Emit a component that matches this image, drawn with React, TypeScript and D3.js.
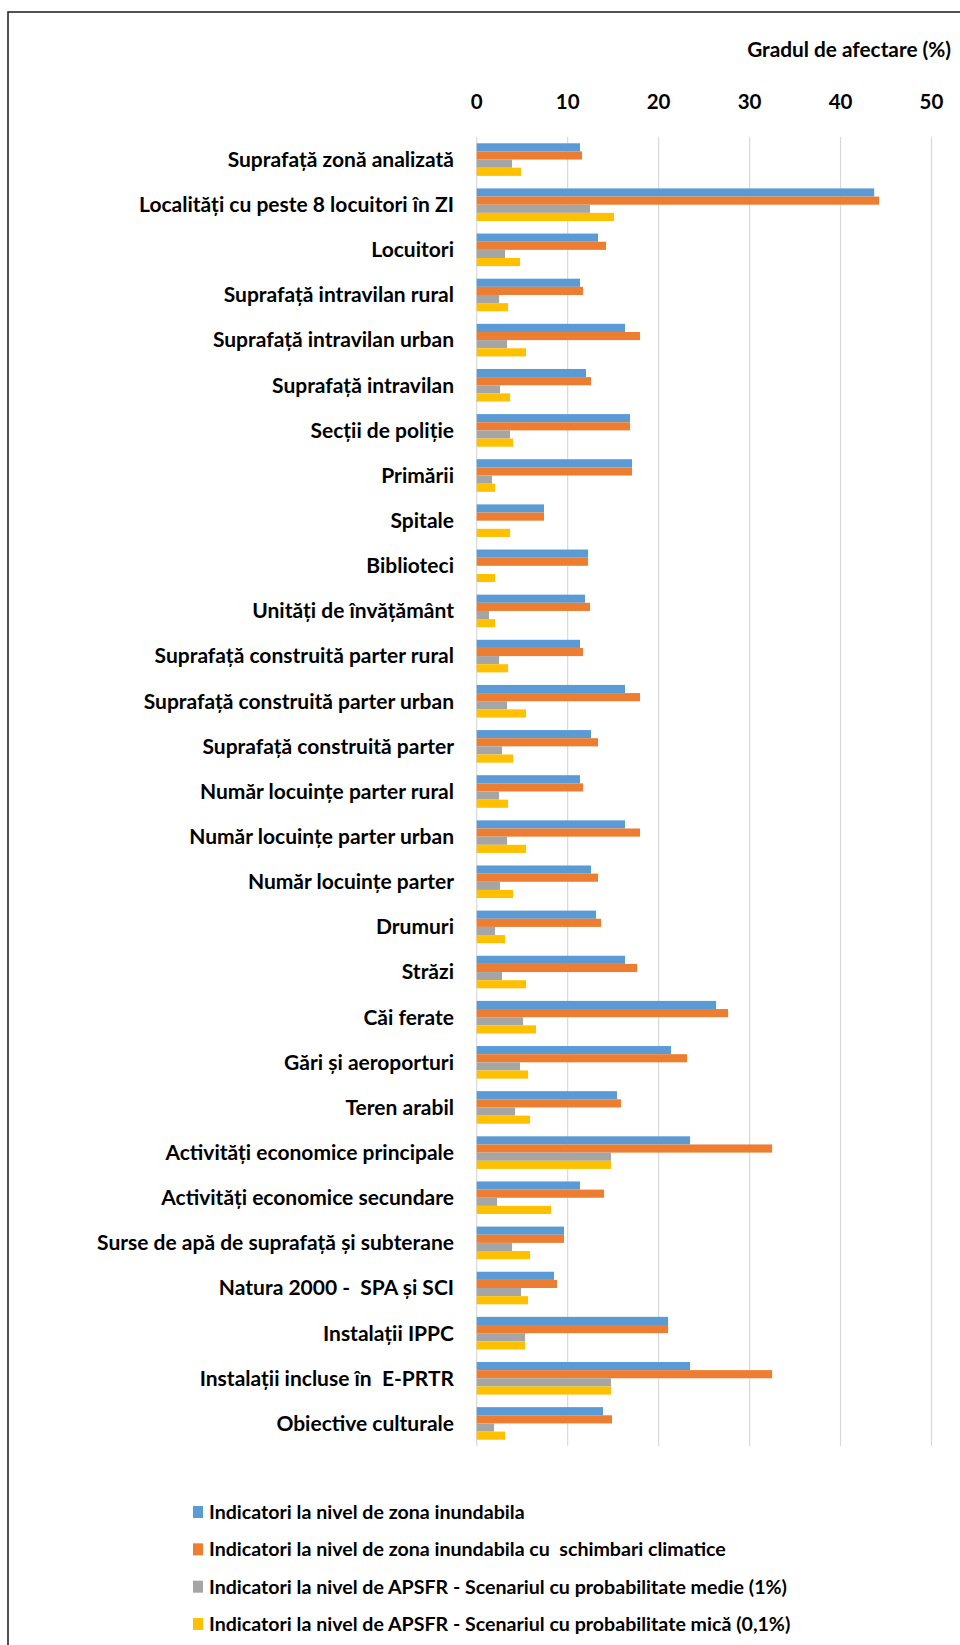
import React from "react";
import * as d3 from "d3";

const categories: string[] = [
  "Suprafață zonă analizată",
  "Localități cu peste 8 locuitori în ZI",
  "Locuitori",
  "Suprafață intravilan rural",
  "Suprafață intravilan urban",
  "Suprafață intravilan",
  "Secții de poliție",
  "Primării",
  "Spitale",
  "Biblioteci",
  "Unități de învățământ",
  "Suprafață construită parter rural",
  "Suprafață construită parter urban",
  "Suprafață construită parter",
  "Număr locuințe parter rural",
  "Număr locuințe parter urban",
  "Număr locuințe parter",
  "Drumuri",
  "Străzi",
  "Căi ferate",
  "Gări și aeroporturi",
  "Teren arabil",
  "Activități economice principale",
  "Activități economice secundare",
  "Surse de apă de suprafață și subterane",
  "Natura 2000 -  SPA și SCI",
  "Instalații IPPC",
  "Instalații incluse în  E-PRTR",
  "Obiective culturale",
];

const seriesNames: string[] = [
  "Indicatori la nivel de zona inundabila",
  "Indicatori la nivel de zona inundabila cu  schimbari climatice",
  "Indicatori la nivel de APSFR - Scenariul cu probabilitate medie (1%)",
  "Indicatori la nivel de APSFR - Scenariul cu probabilitate mică (0,1%)",
];

const zonaInundabila: number[] = [
  11.36, 43.7, 13.34, 11.36, 16.31, 12.02, 16.86, 17.08, 7.4, 12.24, 11.91,
  11.36, 16.31, 12.57, 11.36, 16.31, 12.57, 13.12, 16.31, 26.32, 21.37, 15.43,
  23.46, 11.36, 9.6, 8.5, 21.04, 23.46, 13.89,
];
const zonaInundabilaCC: number[] = [
  11.58, 44.25, 14.22, 11.69, 17.96, 12.57, 16.86, 17.08, 7.4, 12.24, 12.46,
  11.69, 17.96, 13.34, 11.69, 17.96, 13.34, 13.67, 17.63, 27.64, 23.13, 15.87,
  32.48, 14.0, 9.6, 8.83, 21.04, 32.48, 14.88,
];
const apsfrMedie: number[] = [
  3.89, 12.46, 3.12, 2.46, 3.34, 2.57, 3.67, 1.69, 0, 0, 1.36,
  2.46, 3.34, 2.79, 2.46, 3.34, 2.57, 2.02, 2.79, 5.1, 4.77, 4.22,
  14.77, 2.24, 3.89, 4.88, 5.32, 14.77, 1.91,
];
const apsfrMica: number[] = [
  4.88, 15.1, 4.77, 3.45, 5.43, 3.67, 4.0, 2.02, 3.67, 2.02, 2.02,
  3.45, 5.43, 4.0, 3.45, 5.43, 4.0, 3.12, 5.43, 6.52, 5.65, 5.87,
  14.77, 8.17, 5.87, 5.65, 5.32, 14.77, 3.12,
];

const xTicks: number[] = [0, 10, 20, 30, 40, 50];
const axisTitle = "Gradul de afectare (%)";
const colors: string[] = ["#5b9bd5", "#ed7d31", "#a5a5a5", "#ffc000"];

const FONT = "Lato, 'Open Sans', sans-serif";

export default function App() {
  const width = 960;
  const height = 1645;
  const seriesValues = [zonaInundabila, zonaInundabilaCC, apsfrMedie, apsfrMica];

  const x = d3.scaleLinear().domain([0, 50]).range([476.7, 931.5]);
  const y = d3
    .scaleBand<string>()
    .domain(categories)
    .range([137, 1446])
    .paddingInner(0.278)
    .paddingOuter(0.139);
  const inner = d3
    .scaleBand<number>()
    .domain(d3.range(seriesNames.length))
    .range([0, y.bandwidth()]);

  const legendY = d3
    .scaleLinear()
    .domain([0, 3])
    .range([1512, 1624]);

  return (
    <svg
      width={width}
      height={height}
      style={{ display: "block", position: "absolute", left: 0, top: 0 }}
    >
      <rect x={0} y={0} width={width} height={height} fill="#fff" />
      <rect
        x={8}
        y={12}
        width={width + 20}
        height={height + 20}
        fill="none"
        stroke="#1a1a1a"
        strokeWidth={1.5}
      />
      {xTicks.map((t) => (
        <g key={t}>
          <line
            x1={x(t)}
            x2={x(t)}
            y1={137}
            y2={1446}
            stroke="#d9d9d9"
            strokeWidth={1.2}
          />
          <text
            x={x(t)}
            y={108.5}
            textAnchor="middle"
            fontFamily={FONT}
            fontWeight={700}
            fontSize={20.5}
            fill="#000"
          >
            {t}
          </text>
        </g>
      ))}
      <text
        x={951}
        y={56.5}
        textAnchor="end"
        fontFamily={FONT}
        fontWeight={700}
        fontSize={20.8}
        fill="#000"
        style={{ whiteSpace: "pre" }}
      >
        {axisTitle}
      </text>
      {categories.map((c, i) => (
        <g key={c}>
          {seriesValues.map((vals, s) =>
            vals[i] > 0 ? (
              <rect
                key={s}
                x={x(0)}
                y={(y(c) as number) + (inner(s) as number)}
                width={x(vals[i]) - x(0)}
                height={inner.bandwidth()}
                fill={colors[s]}
              />
            ) : null
          )}
          <text
            x={454}
            y={(y(c) as number) + y.bandwidth() / 2}
            dy="0.35em"
            textAnchor="end"
            fontFamily={FONT}
            fontWeight={700}
            fontSize={21}
            fill="#000"
            style={{ whiteSpace: "pre" }}
          >
            {c}
          </text>
        </g>
      ))}
      {seriesNames.map((n, s) => (
        <g key={n}>
          <rect
            x={193}
            y={legendY(s) - 6}
            width={10}
            height={12}
            fill={colors[s]}
          />
          <text
            x={209}
            y={legendY(s)}
            dy="0.35em"
            fontFamily={FONT}
            fontWeight={700}
            fontSize={19.6}
            fill="#000"
            style={{ whiteSpace: "pre" }}
          >
            {n}
          </text>
        </g>
      ))}
    </svg>
  );
}
